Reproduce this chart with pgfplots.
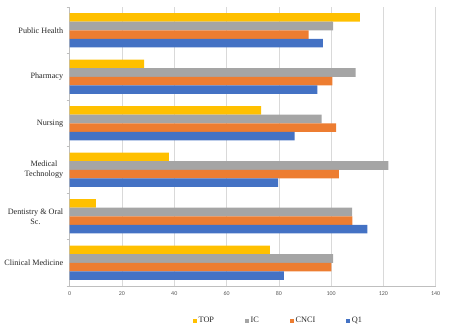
\documentclass[border=0pt]{standalone}
\usepackage{pgfplots}
\pgfplotsset{compat=1.18}
\usepackage{fontspec}
\setmainfont{Liberation Serif}
\newfontfamily\tickfont{Carlito}
\definecolor{cTop}{HTML}{FFC000}
\definecolor{cIC}{HTML}{A5A5A5}
\definecolor{cCNCI}{HTML}{ED7D31}
\definecolor{cQ}{HTML}{4472C4}
\definecolor{gridgray}{HTML}{D9D9D9}
\definecolor{axisgray}{HTML}{BFBFBF}
\definecolor{tickgray}{HTML}{595959}
\definecolor{labelgray}{HTML}{262626}
\begin{document}
\begin{tikzpicture}
\path[use as bounding box] (0,0) rectangle (450bp,330bp);
\begin{axis}[
  at={(69.7bp,44bp)}, anchor=south west,
  scale only axis, width=366bp, height=279bp,
  xbar, bar width=0.185,
  xmin=0, xmax=140, ymin=-0.5, ymax=5.5,
  axis lines*=left,
  axis line style={draw=axisgray, line width=0.6bp},
  xmajorgrids, grid style={draw=gridgray, line width=0.6bp},
  xtick={0,20,...,140},
  major tick length=0pt,
  ytick={0,1,2,3,4,5},
  yticklabels={Clinical Medicine, {Dentistry \& Oral\\Sc.}, {Medical\\Technology}, Nursing, Pharmacy, Public Health},
  minor ytick={-0.5,0.5,1.5,2.5,3.5,4.5,5.5},
  minor tick length=3bp, tick align=outside,
  minor tick style={draw=axisgray, line width=0.6bp},
  yticklabel style={font=\fontsize{8.2}{10}\selectfont, align=center, text=labelgray, xshift=-3bp},
  xticklabel style={font=\tickfont\fontsize{6}{7}\selectfont, text=tickgray, yshift=-2bp},
  /pgf/number format/assume math mode=true,
  legend columns=4,
  legend style={at={(0.5705,-0.1254)}, anchor=center, draw=none, fill=none,
    font=\fontsize{8.3}{10}\selectfont, text=labelgray,
    /tikz/every even column/.append style={column sep=29bp}},
  legend image code/.code={\fill[#1,draw=none] (0bp,-1.8bp) rectangle (3.6bp,1.8bp);},
]
% TOP
\addplot[fill=cTop, draw=none, bar shift=0.2775] coordinates {
  (76.6,0) (10.0,1) (37.9,2) (73.2,3) (28.5,4) (111.0,5)};
% IC
\addplot[fill=cIC, draw=none, bar shift=0.0925] coordinates {
  (100.8,0) (108.0,1) (121.9,2) (96.4,3) (109.4,4) (100.8,5)};
% CNCI
\addplot[fill=cCNCI, draw=none, bar shift=-0.0925] coordinates {
  (100.1,0) (108.1,1) (103.0,2) (101.9,3) (100.5,4) (91.4,5)};
% Q1
\addplot[fill=cQ, draw=none, bar shift=-0.2775] coordinates {
  (81.9,0) (113.9,1) (79.7,2) (86.0,3) (94.7,4) (96.8,5)};
\legend{TOP, IC, CNCI, Q1}
\end{axis}
\end{tikzpicture}
\end{document}
